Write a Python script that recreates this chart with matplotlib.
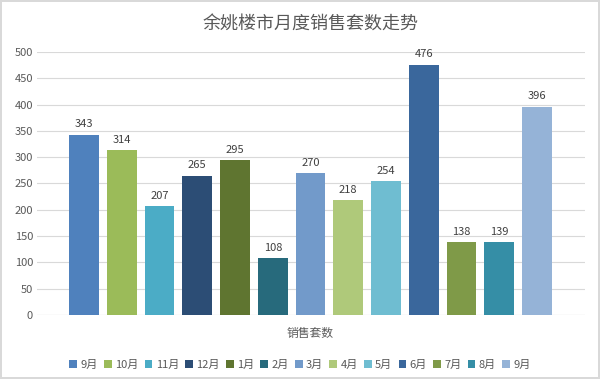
import matplotlib
matplotlib.use('Agg')
import matplotlib.pyplot as plt
from matplotlib.patches import Patch

plt.rcParams['font.family'] = ['Noto Sans CJK SC', 'DejaVu Sans']

# 数据
months = ['9月', '10月', '11月', '12月', '1月', '2月', '3月', '4月', '5月', '6月', '7月', '8月', '9月']
sales = [343, 314, 207, 265, 295, 108, 270, 218, 254, 476, 138, 139, 396]
colors = ['#4F81BD', '#9BBB59', '#4BACC6', '#2C4D75', '#5F7530', '#276A7C', '#729ACA',
          '#AFC97A', '#6FBDD1', '#3A679C', '#7F9A48', '#358EA6', '#95B3D7']
yticks = [0, 50, 100, 150, 200, 250, 300, 350, 400, 450, 500]

TXT = '#595959'

fig = plt.figure(figsize=(6.0, 3.79), dpi=100)
fig.patch.set_edgecolor('#d9d9d9')
fig.patch.set_linewidth(1.5)
ax = fig.add_axes([0.062, 0.169, 0.913, 0.694])

x = list(range(len(sales)))
ax.bar(x, sales, width=0.79, color=colors, zorder=2)
for xi, v in zip(x, sales):
    ax.text(xi, v + 10, str(v), ha='center', va='bottom', fontsize=8, color='#404040')

ax.set_xlim(-1.24, 13.27)
ax.set_ylim(0, 500)
ax.set_yticks(yticks)
ax.set_xticks([])
ax.tick_params(axis='y', length=0, labelsize=8, labelcolor=TXT, pad=3)
ax.grid(axis='y', color='#d9d9d9', lw=0.8, zorder=0)
for s in ax.spines.values():
    s.set_visible(False)
ax.axhline(0, color='#d9d9d9', lw=0.8, zorder=1)

fig.text(0.517, 0.934, '余姚楼市月度销售套数走势', ha='center', va='center',
         fontsize=13, color=TXT)
fig.text(0.517, 0.121, '销售套数', ha='center', va='center', fontsize=8.5, color=TXT)

handles = [Patch(facecolor=c, label=m) for c, m in zip(colors, months)]
fig.legend(handles=handles, loc='center', bbox_to_anchor=(0.5, 0.037), ncol=13,
           frameon=False, fontsize=8, labelcolor=TXT, handlelength=0.7, handleheight=0.7,
           handletextpad=0.3, columnspacing=0.55)

plt.savefig('out.png', dpi=100, facecolor='white')
